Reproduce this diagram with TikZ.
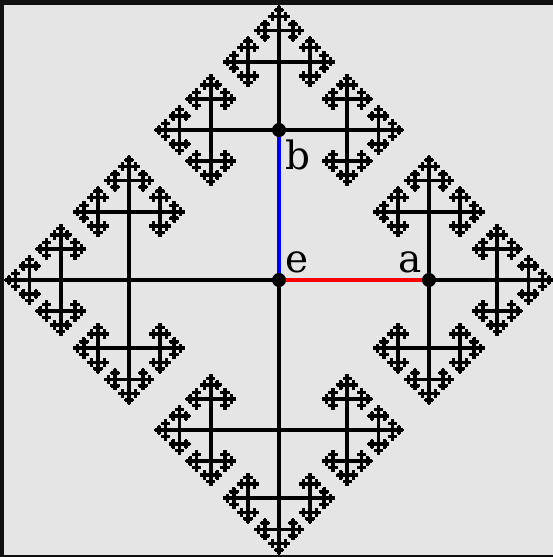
\documentclass[tikz,border=0pt]{standalone}
\usepackage{fontspec}
\setmainfont{DejaVu Serif}
\definecolor{bgc}{RGB}{229,229,229}
\definecolor{framec}{RGB}{17,17,17}
\tikzset{
  edge/.style={line width=3.6pt,black},
  gen/.style={line width=3.6pt},
  dot/.style={circle,fill=black,inner sep=0pt,minimum size=14pt},
  lbl/.style={anchor=base west,inner sep=0pt,font=\fontsize{39}{39}\selectfont}
}
\newcommand\cgsub[2]{%
  \draw[edge] (0,0) -- (#2,0);%
  \ifnum#1>1
    \begin{scope}[shift={(#2,0)}]%
      \pgfmathsetmacro\cglen{#2*0.455}%
      \pgfmathtruncatemacro\cgdep{#1-1}%
      \foreach \cgang in {0,90,-90}{%
        \begin{scope}[rotate=\cgang]\cgsub{\cgdep}{\cglen}\end{scope}}%
    \end{scope}%
  \fi}
\begin{document}
\begin{tikzpicture}[x=1pt,y=-1pt]
\useasboundingbox (0,0) rectangle (553,557);
\fill[bgc] (0,0) rectangle (554,557);
\fill[framec] (0,0) rectangle (4,557);
\fill[framec] (0,0) rectangle (554,5);
\fill[framec] (0,554.7) rectangle (554,557);
\begin{scope}[shift={(279,280)}]
  \foreach \cgroot in {0,90,180,270}{%
    \begin{scope}[rotate=\cgroot]\cgsub{7}{150}\end{scope}}
\end{scope}
\coordinate (e) at (279,280);
\coordinate (a) at (429,280);
\coordinate (b) at (279,130);
\draw[gen,red] (e) -- (a);
\draw[gen,blue] (e) -- (b);
\node[dot] (edot) at (e) {};
\node[dot] (adot) at (a) {};
\node[dot] (bdot) at (b) {};
\node[lbl] (elbl) at (285,272) {e};
\node[lbl] (albl) at (398,272) {a};
\node[lbl] (blbl) at (285,169) {b};
\end{tikzpicture}
\end{document}
